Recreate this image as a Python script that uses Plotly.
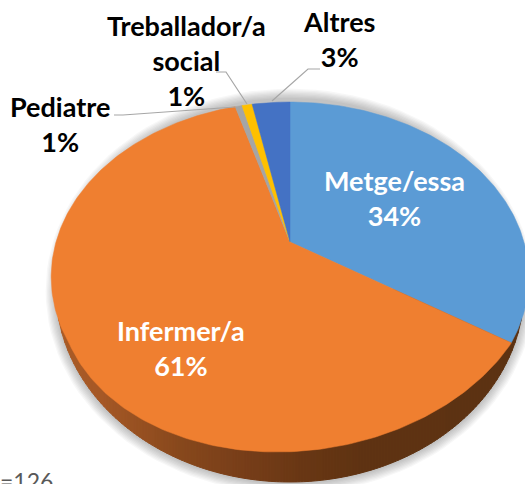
import math
import plotly.graph_objects as go

# Data (share of respondents, clockwise from 12 o'clock)
categories = ["Metge/essa", "Infermer/a", "Pediatre", "Treballador/a<br>social", "Altres"]
values = [34.0, 61.5, 0.56, 0.84, 3.1]
value_labels = ["34%", "61%", "1%", "1%", "3%"]
colors = ["#5B9BD5", "#EF7F30", "#A5A5A5", "#FFC000", "#4472C4"]

label_x = [394, 181, 60, 186, 339]
label_y = [198, 348, 124, 60, 39]
label_color = ["white", "white", "black", "black", "black"]

# Shade of the rim from left to right: pixel x, then colour
wall_stops = [(50, (170, 92, 38)), (100, (165, 88, 38)), (180, (135, 72, 28)),
              (240, (120, 62, 25)), (300, (105, 55, 20)), (360, (95, 51, 18)), (530, (92, 50, 18))]

# Perspective tilted disc in pixel coordinates
CX, CY, BX, AY, K = 290, 242, 234, 168, 0.2
# Lower outline of the disc's thickness
WX, WY, WRX, WRY = 290, 290, 234, 192


def project(frac):
    a = 2 * math.pi * frac
    x, y = math.sin(a), math.cos(a)
    w = 1 + K * y
    px, py = CX + BX * x / w, CY - AY * y / w
    return px - 13 * max(0, py - 345) / 107, py


def arc(f0, f1):
    n = max(4, int((f1 - f0) * 400))
    return [project(f0 + (f1 - f0) * i / n) for i in range(n + 1)]


def wall_color(x):
    for (x0, c0), (x1, c1) in zip(wall_stops[:-1], wall_stops[1:]):
        if x <= x1:
            t = max(0, (x - x0) / (x1 - x0))
            return "rgb(%d,%d,%d)" % tuple(round(a + (b - a) * t) for a, b in zip(c0, c1))
    return "rgb(%d,%d,%d)" % wall_stops[-1][1]


def wall_y(x):
    u = (x - WX) / WRX
    return WY + WRY * math.sqrt(max(0, 1 - u * u))


fig = go.Figure()


def poly(pts, fill, lw=0.5):
    fig.add_trace(go.Scatter(
        x=[p[0] for p in pts] + [pts[0][0]],
        y=[p[1] for p in pts] + [pts[0][1]],
        mode="lines", fill="toself", fillcolor=fill,
        line=dict(width=lw, color=fill),
        hoverinfo="skip", showlegend=False,
    ))


total = sum(values)
edges = [0.0]
for v in values:
    edges.append(edges[-1] + v / total)

# Soft shadow under the disc
steps = [i / 120 for i in range(121)]
for i in range(8, 0, -1):
    rx, ry = WRX + i * 1.3, WRY + i * 1.3
    shadow = [(WX + rx * math.cos(2 * math.pi * s), WY + 1 + ry * math.sin(2 * math.pi * s)) for s in steps]
    poly(shadow, "rgba(0,0,0,0.03)", 0)

# Side wall as thin strips so the shade runs along the rim
x = WX - WRX
while x < WX + WRX:
    x2 = min(x + 3, WX + WRX)
    poly([(x, WY), (x2, WY), (x2, wall_y(x2)), (x, wall_y(x))], wall_color(x), 1)
    x = x2

# Top surface
for idx in range(len(values)):
    poly([(CX, CY)] + arc(edges[idx], edges[idx + 1]), colors[idx])

# Leader lines
leaders = [
    ([114, 123, 235], [115, 115, 107]),
    ([216, 226, 247], [72, 72, 104]),
    ([320, 308, 272], [69, 69, 101]),
]
for lx, ly in leaders:
    fig.add_trace(go.Scatter(x=lx, y=ly, mode="lines", line=dict(color="#A6A6A6", width=1.2),
                             hoverinfo="skip", showlegend=False))

for name, val, lxp, lyp, c in zip(categories, value_labels, label_x, label_y, label_color):
    fig.add_annotation(x=lxp, y=lyp, text="<b>%s<br>%s</b>" % (name, val), showarrow=False,
                       font=dict(family="Lato", size=27, color=c), align="center",
                       xanchor="center", yanchor="middle")

fig.add_annotation(xref="paper", yref="paper", x=-0.004, y=0.006, text="=126", showarrow=False,
                   xanchor="left", yanchor="middle",
                   font=dict(family="Lato", size=23, color="#595959"))

fig.update_layout(
    width=525, height=484, margin=dict(l=0, r=0, t=0, b=0),
    paper_bgcolor="white", plot_bgcolor="white", showlegend=False,
    xaxis=dict(range=[0, 525], visible=False, fixedrange=True),
    yaxis=dict(range=[484, 0], visible=False, fixedrange=True),
)
fig.write_html("out.html", config={"displayModeBar": False},
               post_script="document.body.style.margin='0';document.body.style.overflow='hidden';")
